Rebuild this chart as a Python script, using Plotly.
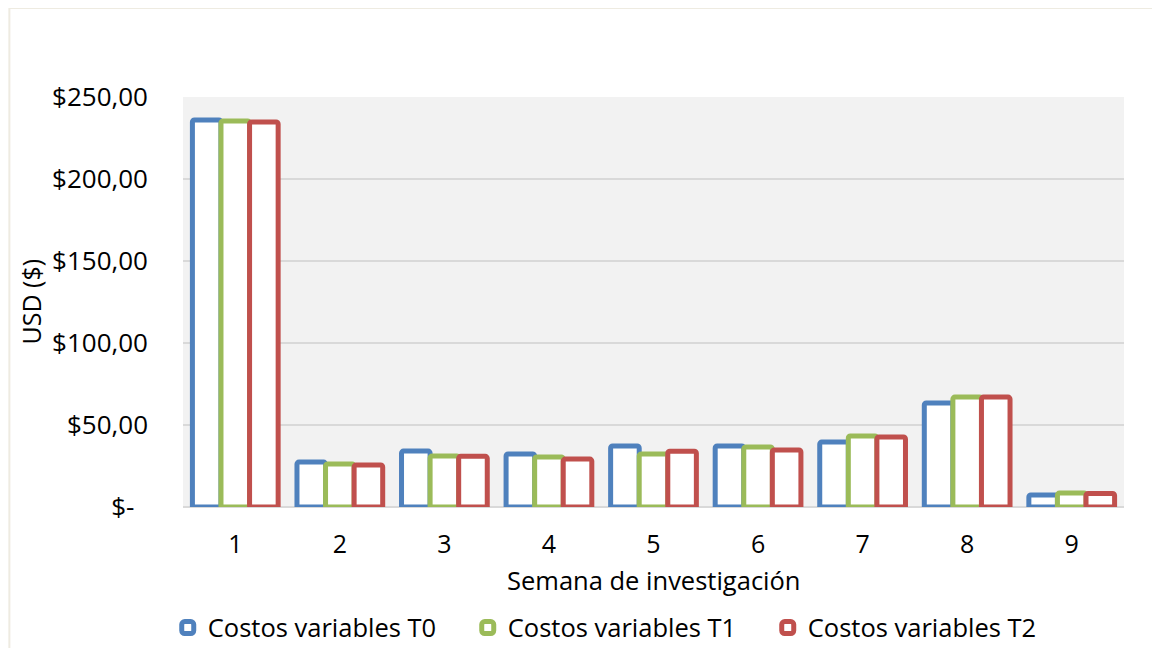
import plotly.graph_objects as go

semanas = ["1", "2", "3", "4", "5", "6", "7", "8", "9"]
costos_t0 = [236.0, 27.4, 34.1, 32.3, 37.2, 37.2, 39.6, 63.4, 7.3]
costos_t1 = [235.4, 26.2, 31.1, 30.5, 32.3, 36.6, 43.3, 67.0, 8.5]
costos_t2 = [234.8, 25.6, 30.9, 29.2, 34.0, 34.8, 42.7, 67.0, 8.2]

y_ticks = [0, 50, 100, 150, 200, 250]
y_labels = ["$-\u00a0\u00a0", "$50,00", "$100,00", "$150,00", "$200,00", "$250,00"]

series = [
    ("Costos variables T0", costos_t0, "#4F81BD"),
    ("Costos variables T1", costos_t1, "#9BBB59"),
    ("Costos variables T2", costos_t2, "#C0504D"),
]

fig = go.Figure()
for nombre, valores, color in series:
    fig.add_trace(go.Bar(
        x=semanas, y=valores, name=nombre,
        marker=dict(color="white", line=dict(color=color, width=5), cornerradius=2),
        cliponaxis=False,
    ))

fuente = "Open Sans"
# la página añade 8px de margen al cuerpo, por eso l y t van compensados
fig.update_layout(
    width=1160, height=648,
    margin=dict(l=175, r=44, t=89, b=149, autoexpand=False),
    paper_bgcolor="white", plot_bgcolor="#F2F2F2",
    barmode="group", bargap=0.18, bargroupgap=0,
    font=dict(family=fuente, color="black", size=25.5),
    showlegend=True,
    legend=dict(orientation="h", x=0.462, xanchor="center", y=-0.295, yanchor="middle",
                font=dict(size=25.5), entrywidth=255, traceorder="normal"),
    xaxis=dict(type="category", showgrid=False, zeroline=False, showline=False,
               tickfont=dict(size=25), ticklabelstandoff=20),
    yaxis=dict(range=[0, 250], tickvals=y_ticks, ticktext=y_labels,
               showgrid=True, gridcolor="#D9D9D9", gridwidth=1.5,
               zeroline=True, zerolinecolor="#D9D9D9", zerolinewidth=2,
               tickfont=dict(size=26), ticklabelstandoff=34),
    annotations=[
        dict(text="Semana de investigación", xref="paper", yref="paper",
             x=0.5, y=-0.178, xanchor="center", yanchor="middle",
             showarrow=False, font=dict(size=25.5)),
        dict(text="USD ($)", xref="paper", yref="paper", textangle=-90,
             x=-0.162, y=0.5, xanchor="center", yanchor="middle",
             showarrow=False, font=dict(size=25)),
    ],
    shapes=[
        # marco exterior del gráfico
        dict(type="rect", xref="paper", yref="paper",
             x0=-0.1845, x1=1.1, y0=-0.5, y1=1.217,
             line=dict(color="#EEEBE1", width=2), layer="below"),
    ],
)

fig.write_html("out.html")
